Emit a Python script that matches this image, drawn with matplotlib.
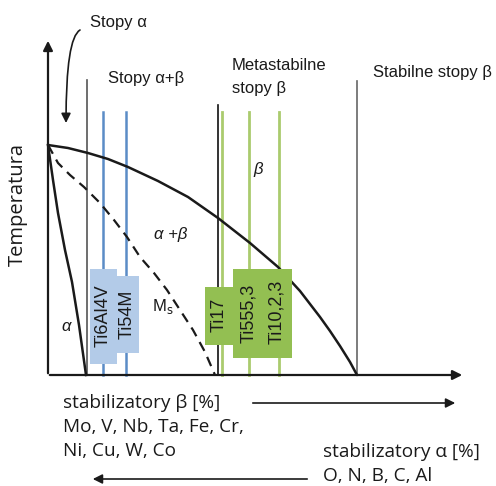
import numpy as np
import matplotlib.pyplot as plt
from matplotlib.patches import Rectangle, FancyArrowPatch
from matplotlib.path import Path

# schematic diagram in a plain coordinate frame (x: beta stabiliser content, y: downward)
x0, y0 = 48, 375          # origin of the diagram
x_end, y_top = 465, 38    # arrow tips of the axes

# beta transus
transus_x = [48, 68, 88, 108, 128, 158, 188, 218, 250, 278, 300, 310, 320, 330, 340, 350, 357]
transus_y = [145, 148, 153, 159, 167, 181, 197, 218, 243, 267, 291, 304, 317, 331, 346, 362, 375]
# alpha / alpha+beta boundary
alpha_x = [48, 53, 58, 65, 72, 79, 86]
alpha_y = [145, 180, 213, 250, 282, 325, 375]
# martensite start
ms_x = [48, 58, 70, 84, 100, 114, 127, 140, 154, 167, 180, 193, 205, 215]
ms_y = [145, 163, 175, 187, 203, 220, 237, 257, 273, 290, 310, 330, 352, 375]

# region borders
borders_x = [87, 218, 357]
borders_top = [80, 105, 81]
borders_col = ['#555555', '#111111', '#666666']

# alloys
blue_alloys = ['Ti6Al4V', 'Ti54M']
blue_x = [103, 126]
green_alloys = ['Ti17', 'Ti555,3', 'Ti10,2,3']
green_x = [222, 249, 279]
alloy_top = 112

blue_line = '#5b8cc6'
blue_box = '#b3cbe8'
green_line = '#aacb6e'
green_box = '#93bf52'
ink = '#1a1a1a'

fig = plt.figure(figsize=(4.96, 4.86), dpi=100)
ax = fig.add_axes([0, 0, 1, 1])
ax.set_xlim(0, 496)
ax.set_ylim(486, 0)
ax.axis('off')

# axes with arrows
ax.annotate('', xy=(x0, y_top), xytext=(x0, y0 + 1),
            arrowprops=dict(arrowstyle='-|>', color=ink, lw=1.6, mutation_scale=14))
ax.annotate('', xy=(x_end, y0), xytext=(x0 - 1, y0),
            arrowprops=dict(arrowstyle='-|>', color=ink, lw=1.6, mutation_scale=14))

for bx, bt, bc in zip(borders_x, borders_top, borders_col):
    ax.plot([bx, bx], [bt, y0], color=bc, lw=1.2)
for bx in blue_x:
    ax.plot([bx, bx], [alloy_top, y0], color=blue_line, lw=1.8)
for gx in green_x:
    ax.plot([gx, gx], [alloy_top, y0], color=green_line, lw=2.0)

ax.plot(transus_x, transus_y, color=ink, lw=1.8, solid_capstyle='round', solid_joinstyle='round')
ax.plot(alpha_x, alpha_y, color=ink, lw=1.8, solid_joinstyle='round')
ax.plot(ms_x, ms_y, color=ink, lw=1.6, linestyle=(0, (4.5, 3)))

# alloy label boxes
ax.add_patch(Rectangle((90, 269), 27, 95, facecolor=blue_box, edgecolor='none', zorder=3))
ax.add_patch(Rectangle((115, 276), 24, 77, facecolor=blue_box, edgecolor='none', zorder=3))
ax.add_patch(Rectangle((205, 287), 30, 58, facecolor=green_box, edgecolor='none', zorder=3))
ax.add_patch(Rectangle((233, 269), 59, 89, facecolor=green_box, edgecolor='none', zorder=3))

box_font = dict(family='Liberation Sans', fontsize=13, color=ink, rotation=90,
                ha='center', va='center', zorder=4)
ax.text(103, 316, blue_alloys[0], **box_font)
ax.text(127, 314, blue_alloys[1], **box_font)
ax.text(219, 315, green_alloys[0], **box_font)
ax.text(249, 313, green_alloys[1], **box_font)
ax.text(277, 312, green_alloys[2], **box_font)

# region labels
lab = dict(family='Liberation Sans', fontsize=12, color=ink)
ax.text(90, 22, 'Stopy α', va='center', **lab)
ax.text(108, 78, 'Stopy α+β', va='center', **lab)
ax.text(232, 65, 'Metastabilne', va='center', **lab)
ax.text(232, 89, 'stopy β', va='center', **lab)
ax.text(373, 73, 'Stabilne stopy β', va='center', **lab)

ax.text(258, 169, 'β', va='center', ha='center', style='italic', **lab)
ax.text(171, 234, 'α +β', va='center', ha='center', style='italic', **lab)
ax.text(152, 306, r'M$_{\rm s}$', va='center', ha='left', **lab)
ax.text(66, 326, 'α', va='center', ha='center', style='italic', **lab)

# curved pointer to the alpha alloys
pointer = Path([(80, 30), (66, 38), (66, 123)], [Path.MOVETO, Path.CURVE3, Path.CURVE3])
ax.add_patch(FancyArrowPatch(path=pointer, arrowstyle='-|>', mutation_scale=14,
                             color=ink, lw=1.2))

# composition notes below the diagram
low = dict(family='Open Sans', fontsize=13.7, color=ink, va='center')
ax.text(18, 204, 'Temperatura', rotation=90, ha='center',
        **{**low, 'fontsize': 14.5})
ax.text(63, 403, 'stabilizatory β [%]', **low)
ax.text(63, 427, 'Mo, V, Nb, Ta, Fe, Cr,', **low)
ax.text(63, 451, 'Ni, Cu, W, Co', **low)
ax.text(323, 452, 'stabilizatory α [%]', **low)
ax.text(323, 476, 'O, N, B, C, Al', **low)
ax.annotate('', xy=(458, 403), xytext=(250, 403),
            arrowprops=dict(arrowstyle='-|>', color=ink, lw=1.2, mutation_scale=14))
ax.annotate('', xy=(90, 479), xytext=(310, 479),
            arrowprops=dict(arrowstyle='-|>', color=ink, lw=1.2, mutation_scale=14))

fig.savefig('out.png', dpi=100)
